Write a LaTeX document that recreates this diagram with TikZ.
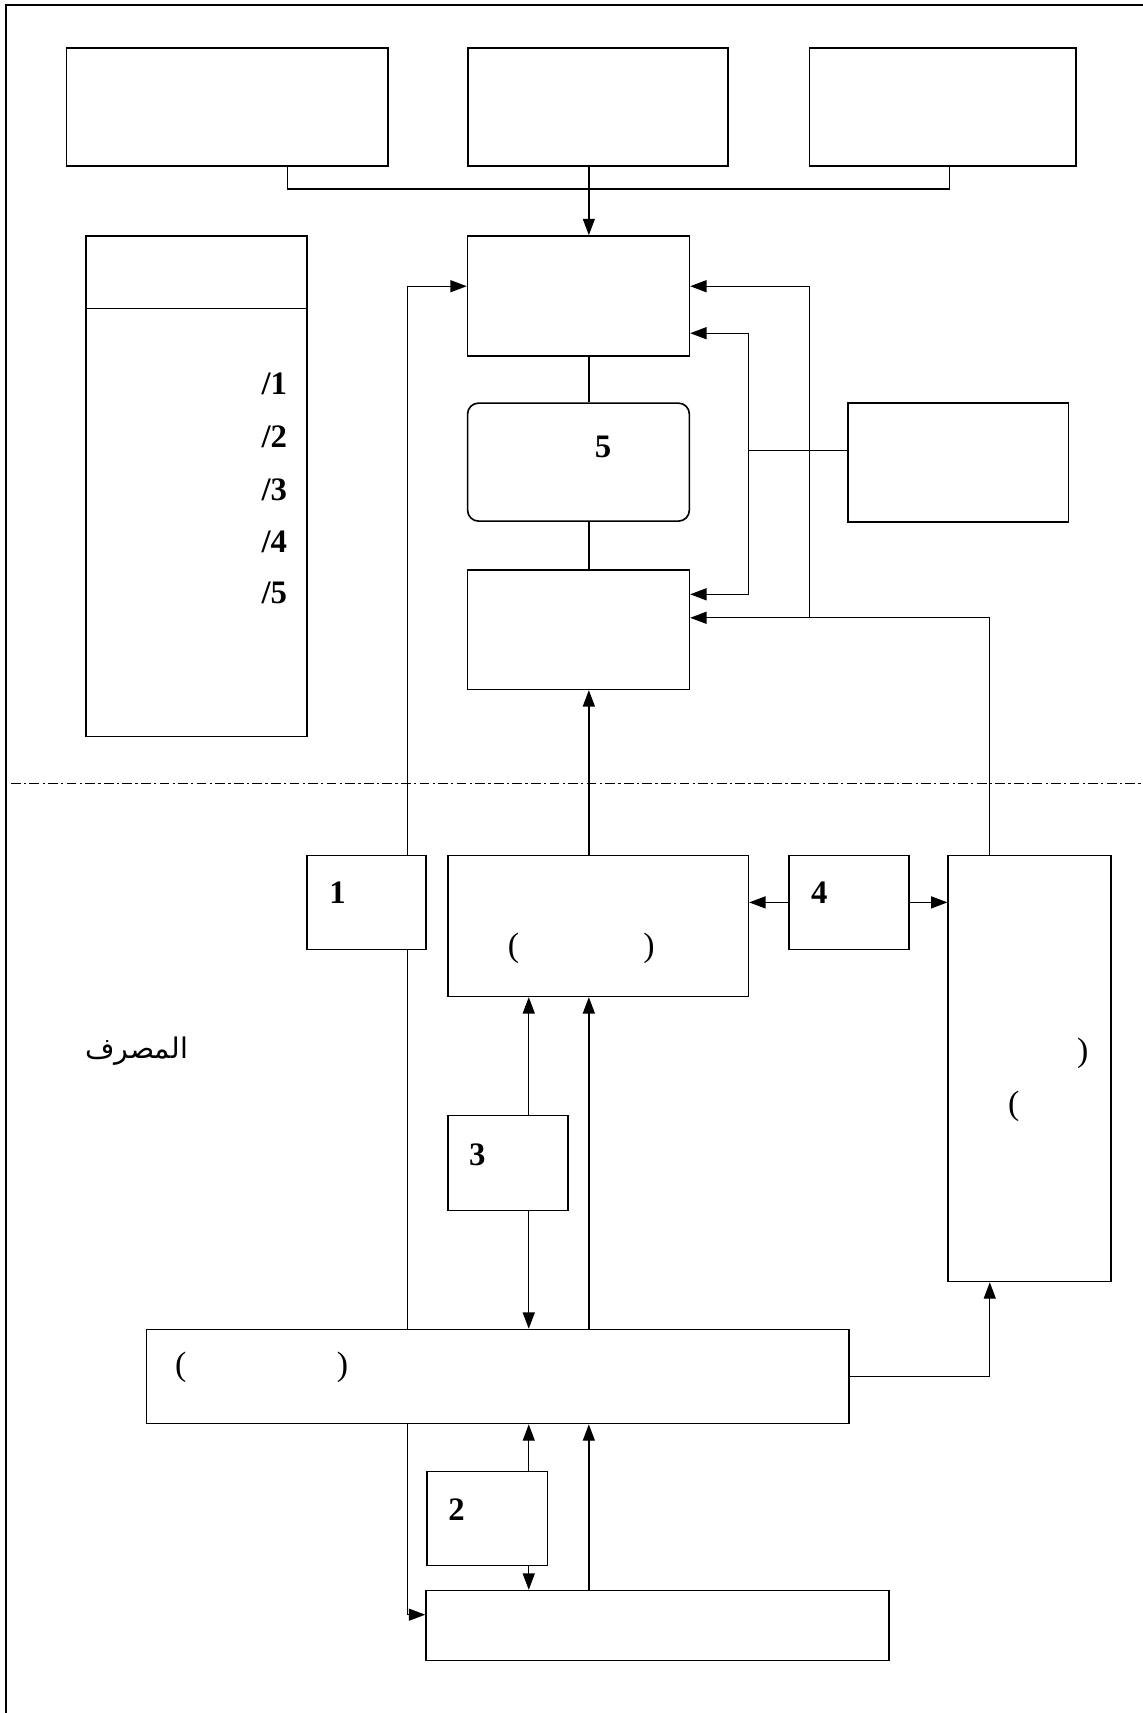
\documentclass[tikz,border=0pt]{standalone}
\usepackage{fontspec}
\setmainfont{Liberation Serif}
\newfontfamily\arabicfont[Script=Arabic]{DejaVu Sans}
\TeXXeTstate=1
\usetikzlibrary{arrows.meta}

\begin{document}
\begin{tikzpicture}[x=1pt,y=-1pt,
    blk/.style={draw,line width=1.5pt,inner sep=0pt},
    wire/.style={line width=1.2pt},
    arr/.style={wire,-{Triangle[length=15pt,width=11pt]}},
    num/.style={inner sep=0pt,font=\fontsize{30}{34}\selectfont\bfseries},
    paren/.style={inner sep=0pt,font=\fontsize{31}{35}\selectfont}]
    \useasboundingbox (0,0) rectangle (1046,1568);
    % frame and boundary
    \draw[line width=1.6pt] (5.5,1568) |- (1046,4.6);
    \draw[wire,dash pattern=on 9pt off 3pt on 2pt off 3pt] (10,717) -- (1046,717);

    % top row
    \node[blk,minimum width=294pt,minimum height=108pt] (src1) at (208,98) {};
    \node[blk,minimum width=238pt,minimum height=108pt] (src2) at (547.5,98) {};
    \node[blk,minimum width=244pt,minimum height=108pt] (src3) at (863,98) {};

    % legend
    \node[blk,minimum width=202pt,minimum height=458pt] (legend) at (180,445) {};
    \draw[line width=1.5pt] ([yshift=-67pt]legend.north west) -- ([yshift=-67pt]legend.north east);
    \foreach \i/\y in {1/351,2/400,3/448,4/496,5/543}
        \node[num,anchor=east] (leg\i) at (263,\y) {/\i};

    % upper column
    \node[blk,minimum width=203pt,minimum height=110pt] (upper) at (529.5,271) {};
    \node[blk,rounded corners=10pt,minimum width=203pt,minimum height=108pt] (core) at (529.5,423) {};
    \node[num] (n5) at (552,409) {5};
    \node[blk,minimum width=203pt,minimum height=109pt] (lower) at (529.5,576.5) {};
    \node[blk,minimum width=202pt,minimum height=109pt] (side) at (877,423.5) {};

    % lower part
    \node[blk,minimum width=109pt,minimum height=86pt] (k1) at (335.5,826) {};
    \node[num] (n1) at (309,817) {1};
    \node[blk,minimum width=275pt,minimum height=129pt] (mid) at (547.5,847.5) {};
    \node[paren] (p1) at (470,868) {(};
    \node[paren] (p2) at (594,868) {)};
    \node[blk,minimum width=110pt,minimum height=86pt] (k4) at (777,826) {};
    \node[num] (n4) at (750,817.5) {4};
    \node[blk,minimum width=149pt,minimum height=390pt] (tall) at (942.5,978) {};
    \node[paren] (p3) at (991,964) {)};
    \node[paren] (p4) at (928,1013) {(};
    \node[blk,minimum width=110pt,minimum height=87pt] (k3) at (465,1064.5) {};
    \node[num] (n3) at (437,1057) {3};
    \node[blk,minimum width=643pt,minimum height=86pt] (wide) at (455.5,1260) {};
    \node[paren] (p5) at (165.5,1252) {(};
    \node[paren] (p6) at (313.5,1252) {)};
    \node[blk,minimum width=110pt,minimum height=86pt] (k2) at (446,1390) {};
    \node[num] (n2) at (418,1382) {2};
    \node[blk,minimum width=424pt,minimum height=64pt] (base) at (602,1488) {};
    \node[inner sep=0pt] (bank) at (125,962) {\arabicfont\fontsize{26}{30}\selectfont\beginR المصرف\endR};

    % wire columns
    \coordinate (c1) at (373,0);
    \coordinate (c2) at (484,0);
    \coordinate (c3) at (539,0);
    \coordinate (c4) at (685,0);
    \coordinate (c5) at (741,0);
    \coordinate (c6) at (906,0);
    \coordinate (bus) at (547,173);

    % connectors
    \draw[wire] ([xshift=55pt]src1.south) |- (bus) -| ([xshift=6pt]src3.south);
    \draw[arr] (src2.south -| c3) -- (upper.north -| c3);
    \draw[wire] (upper.south -| c3) -- (core.north -| c3);
    \draw[wire] (core.south -| c3) -- (lower.north -| c3);
    \draw[arr] (mid.north -| c3) -- (lower.south -| c3);
    \draw[arr] (k1.north -| c1) |- ([yshift=9pt]upper.west);
    \draw[wire] ([yshift=11pt]side.west) -- ([yshift=11pt]side.west -| c4);
    \draw[arr] ([yshift=11pt]side.west -| c4) |- ([yshift=-34pt]upper.east);
    \draw[arr] ([yshift=11pt]side.west -| c4) |- ([yshift=32.5pt]lower.east);
    \draw[arr] (tall.north -| c6) |- ([yshift=11pt]lower.east);
    \draw[arr] ([yshift=11pt]lower.east -| c5) |- ([yshift=9pt]upper.east);
    \draw[arr] (k4.west) -- (k4.west -| mid.east);
    \draw[arr] (k4.east) -- (k4.east -| tall.west);
    \draw[wire] (k1.south -| c1) -- (wide.north -| c1);
    \draw[arr] (k3.north -| c2) -- (mid.south -| c2);
    \draw[arr] (k3.south -| c2) -- (wide.north -| c2);
    \draw[arr] (wide.north -| c3) -- (mid.south -| c3);
    \draw[arr] (wide.east) -| (tall.south -| c6);
    \draw[arr] (wide.south -| c1) |- ([yshift=10pt]base.west);
    \draw[arr] (k2.north -| c2) -- (wide.south -| c2);
    \draw[arr] (k2.south -| c2) -- (base.north -| c2);
    \draw[arr] (base.north -| c3) -- (wide.south -| c3);
\end{tikzpicture}
\end{document}
